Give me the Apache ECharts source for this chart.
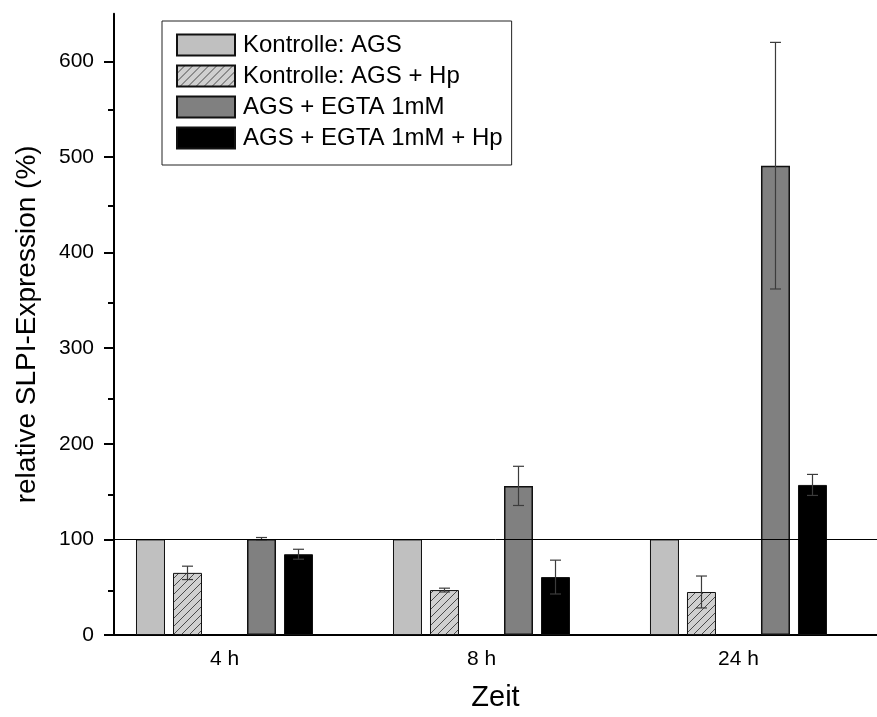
<!DOCTYPE html>
<html>
<head>
<meta charset="utf-8">
<script src="https://cdn.jsdelivr.net/npm/echarts@6/dist/echarts.min.js"></script>
<style>
  html, body { margin: 0; padding: 0; background: #fff; }
  #chart { width: 877px; height: 717px; }
</style>
</head>
<body>
<div id="chart"></div>
<script>
// Time points and groups
const categories = ['4 h', '8 h', '24 h'];
const seriesNames = ['Kontrolle: AGS', 'Kontrolle: AGS + Hp', 'AGS + EGTA 1mM', 'AGS + EGTA 1mM + Hp'];

// Mean relative SLPI expression (%)
const kontrolleAGS   = [100, 100, 100];
const kontrolleAGSHp = [65, 47, 45];
const egta           = [100.5, 156, 491];
const egtaHp         = [84.5, 60.6, 157];

// Standard deviations
const errKontrolleAGSHp = [7, 2, 16.7];
const errEgta           = [1.5, 20.5, 129];
const errEgtaHp         = [5.2, 17.7, 11];

// Axis ticks
const yTicks      = [0, 100, 200, 300, 400, 500, 600];
const yMinorTicks = [50, 150, 250, 350, 450, 550];
const referenceLevel = 100;

const FONT = 'Arial, "Liberation Sans", sans-serif';
const BAR_W = 29;
const BAR_GAP = 0.276;
const BAR_STEP = BAR_W * (1 + BAR_GAP);

// Diagonal hatch fill for the "+ Hp" control
function hatchPattern() {
  const c = document.createElement('canvas');
  c.width = 8; c.height = 8;
  const g = c.getContext('2d');
  g.fillStyle = '#d0d0d0';
  g.fillRect(0, 0, 8, 8);
  g.strokeStyle = '#4a4a4a';
  g.lineWidth = 1;
  g.beginPath();
  g.moveTo(0, 8); g.lineTo(8, 0);
  g.moveTo(-1, 1); g.lineTo(1, -1);
  g.moveTo(7, 9); g.lineTo(9, 7);
  g.stroke();
  return c;
}

const xPos = i => i + 1;

function barSeries(name, values, color, borderWidth) {
  return {
    type: 'bar',
    name: name,
    data: values.map((v, i) => [xPos(i), v]),
    barWidth: BAR_W,
    barGap: (BAR_GAP * 100) + '%',
    itemStyle: { color: color, borderColor: '#111', borderWidth: borderWidth },
    z: 2
  };
}

// error bar records: [x, mean, sd, slot]
function errData(means, errs, slot) {
  return means.map((m, i) => [xPos(i), m, errs[i], slot]);
}
const errorRecords = []
  .concat(errData(kontrolleAGSHp, errKontrolleAGSHp, 1))
  .concat(errData(egta, errEgta, 3))
  .concat(errData(egtaHp, errEgtaHp, 4));

const chart = echarts.init(document.getElementById('chart'), null, { renderer: 'canvas' });

const gridBox = { left: 114, right: 0, top: 13.7, bottom: 78 };

chart.setOption({
  animation: false,
  backgroundColor: '#fff',
  textStyle: { fontFamily: FONT, color: '#000' },
  grid: [
    Object.assign({ containLabel: false }, gridBox),
    Object.assign({ containLabel: false }, gridBox)
  ],
  legend: {
    data: seriesNames,
    orient: 'vertical',
    left: 162,
    top: 21,
    itemWidth: 58,
    itemHeight: 21,
    itemGap: 7,
    padding: [12, 9, 15, 14],
    borderColor: '#222',
    borderWidth: 1,
    backgroundColor: '#fff',
    icon: 'rect',
    selectedMode: false,
    textStyle: { fontSize: 24, color: '#000', fontFamily: FONT, padding: [0, 0, 0, 3], lineHeight: 24 }
  },
  xAxis: [
    {
      type: 'value',
      gridIndex: 0,
      min: 0.570,
      max: 3.539,
      axisLine: { show: true, lineStyle: { color: '#000', width: 2 } },
      axisTick: { show: false },
      splitLine: { show: false },
      axisLabel: {
        customValues: categories.map((c, i) => xPos(i)),
        formatter: v => categories[Math.round(v) - 1],
        fontSize: 21,
        color: '#000',
        fontFamily: FONT,
        margin: 14
      },
      name: 'Zeit',
      nameLocation: 'middle',
      nameGap: 48,
      nameTextStyle: { fontSize: 29, color: '#000', fontFamily: FONT }
    },
    {
      type: 'value',
      gridIndex: 1,
      min: 0.570,
      max: 3.539,
      show: false
    }
  ],
  yAxis: [
    {
      type: 'value',
      gridIndex: 0,
      min: 0,
      max: 650,
      axisLine: { show: true, lineStyle: { color: '#000', width: 2 } },
      axisTick: { show: true, customValues: yTicks, length: 10, lineStyle: { color: '#000', width: 2 } },
      axisLabel: { customValues: yTicks, fontSize: 21, color: '#000', fontFamily: FONT, margin: 20 },
      splitLine: { show: false },
      name: 'relative SLPI-Expression (%)',
      nameLocation: 'middle',
      nameGap: 73,
      nameTextStyle: { fontSize: 28, color: '#000', fontFamily: FONT }
    },
    {
      type: 'value',
      gridIndex: 1,
      min: 0,
      max: 650,
      axisLine: { show: false },
      axisTick: { show: true, customValues: yMinorTicks, length: 6, lineStyle: { color: '#000', width: 2 } },
      axisLabel: { show: false },
      splitLine: { show: false }
    }
  ],
  series: [
    barSeries(seriesNames[0], kontrolleAGS, '#c0c0c0', 1),
    barSeries(seriesNames[1], kontrolleAGSHp, { image: hatchPattern(), repeat: 'repeat' }, 1),
    {
      // empty slot separating the two pairs
      type: 'bar',
      name: 'gap',
      data: [],
      barWidth: BAR_W,
      barGap: (BAR_GAP * 100) + '%',
      markLine: {
        silent: true,
        symbol: 'none',
        label: { show: false },
        lineStyle: { color: '#000', width: 1, type: 'solid' },
        data: [{ yAxis: referenceLevel }]
      }
    },
    barSeries(seriesNames[2], egta, '#808080', 1.5),
    barSeries(seriesNames[3], egtaHp, '#000000', 1),
    {
      type: 'custom',
      name: 'SD',
      data: errorRecords,
      z: 4,
      silent: true,
      renderItem: function (params, api) {
        const x = api.value(0), m = api.value(1), e = api.value(2), slot = api.value(3);
        const top = api.coord([x, m + e]);
        const bot = api.coord([x, m - e]);
        const cx = top[0] + (slot - 2) * BAR_STEP;
        const cap = 5.5;
        const st = { stroke: '#3c3c3c', lineWidth: 1.2 };
        return {
          type: 'group',
          children: [
            { type: 'line', shape: { x1: cx, y1: top[1], x2: cx, y2: bot[1] }, style: st },
            { type: 'line', shape: { x1: cx - cap, y1: top[1], x2: cx + cap, y2: top[1] }, style: st },
            { type: 'line', shape: { x1: cx - cap, y1: bot[1], x2: cx + cap, y2: bot[1] }, style: st }
          ]
        };
      }
    }
  ]
});
</script>
</body>
</html>
